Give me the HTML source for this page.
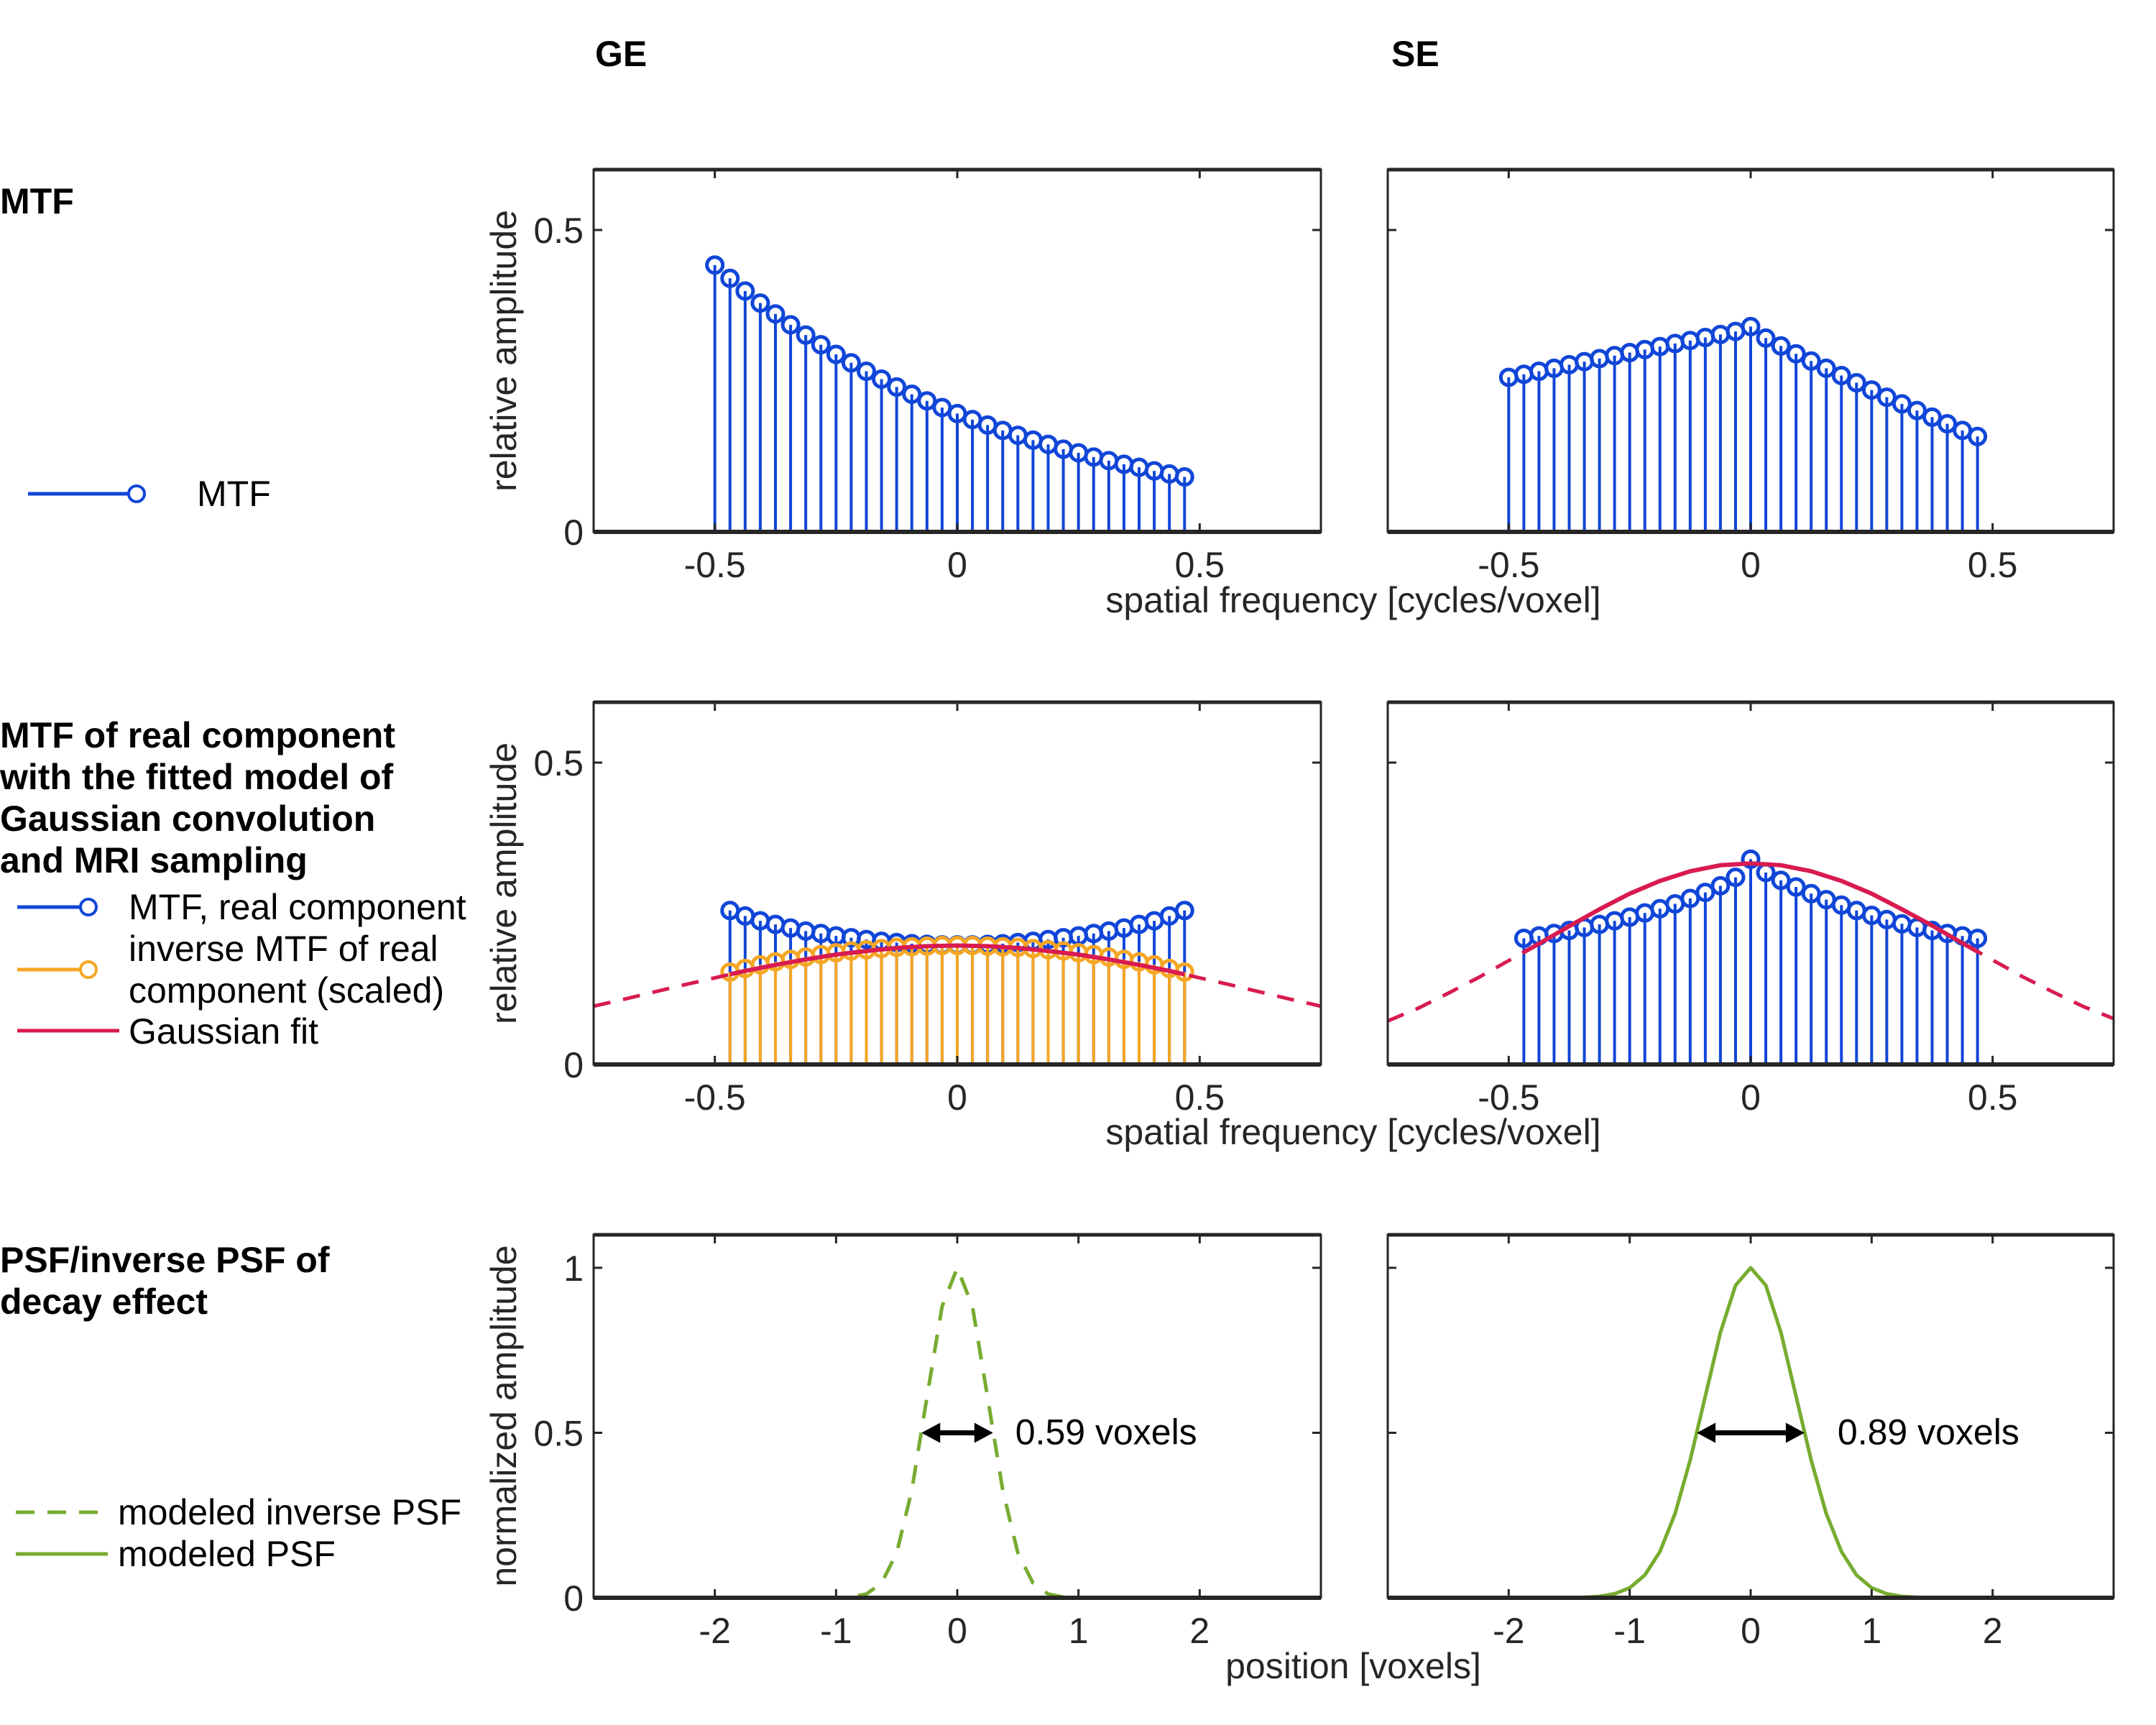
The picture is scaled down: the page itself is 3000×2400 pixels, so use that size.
<!DOCTYPE html>
<html><head><meta charset="utf-8"><style>
html,body{margin:0;padding:0;background:#fff;}
svg{display:block;font-family:"Liberation Sans",sans-serif;}
</style></head><body>
<svg id="fig" width="3000" height="2400" viewBox="0 0 3000 2400" xmlns="http://www.w3.org/2000/svg">
<rect x="0" y="0" width="3000" height="2400" fill="#fff"/>
<g font-weight="bold" font-size="50" fill="#000">
<text x="828" y="92">GE</text>
<text x="1936" y="92">SE</text>
</g>
<g font-weight="bold" font-size="50" fill="#000">
<text x="0" y="297">MTF</text>
<text>
<tspan x="0" y="1040">MTF of real component</tspan><tspan x="0" y="1098">with the fitted model of</tspan><tspan x="0" y="1156">Gaussian convolution</tspan><tspan x="0" y="1214">and MRI sampling</tspan></text>
<text><tspan x="0" y="1770">PSF/inverse PSF of</tspan><tspan x="0" y="1828">decay effect</tspan></text>
</g>
<g font-size="50" fill="#000">
<line x1="39" y1="687" x2="180" y2="687" stroke="#1046d8" stroke-width="5"/>
<circle cx="190" cy="687" r="11" fill="none" stroke="#1046d8" stroke-width="4"/>
<text x="274" y="704">MTF</text>
</g>
<g font-size="50" fill="#000">
<line x1="24" y1="1262" x2="112" y2="1262" stroke="#1046d8" stroke-width="5"/>
<circle cx="123" cy="1262" r="11" fill="none" stroke="#1046d8" stroke-width="4"/>
<text x="179" y="1279">MTF, real component</text>
<line x1="24" y1="1349" x2="112" y2="1349" stroke="#f5a623" stroke-width="5"/>
<circle cx="123" cy="1349" r="11" fill="none" stroke="#f5a623" stroke-width="4"/>
<text><tspan x="179" y="1337">inverse MTF of real</tspan><tspan x="179" y="1395">component (scaled)</tspan></text>
<line x1="24" y1="1434" x2="166" y2="1434" stroke="#d81b50" stroke-width="5"/>
<text x="179" y="1452">Gaussian fit</text>
</g>
<g font-size="50" fill="#000">
<line x1="22" y1="2104" x2="145" y2="2104" stroke="#77ac30" stroke-width="5" stroke-dasharray="26,18"/>
<text x="164" y="2121">modeled inverse PSF</text>
<line x1="22" y1="2162" x2="150" y2="2162" stroke="#77ac30" stroke-width="5"/>
<text x="164" y="2179">modeled PSF</text>
</g>
<g id="plots"></g>
</svg>
<script>
// ---- data ----
const mtfX32 = [-0.5,-0.46875,-0.4375,-0.40625,-0.375,-0.34375,-0.3125,-0.28125,-0.25,-0.21875,-0.1875,-0.15625,-0.125,-0.09375,-0.0625,-0.03125,0,0.03125,0.0625,0.09375,0.125,0.15625,0.1875,0.21875,0.25,0.28125,0.3125,0.34375,0.375,0.40625,0.4375,0.46875];
const mtfGE = [0.442,0.420,0.399,0.379,0.361,0.343,0.326,0.310,0.294,0.280,0.266,0.253,0.240,0.228,0.217,0.206,0.196,0.186,0.177,0.168,0.160,0.152,0.145,0.137,0.131,0.124,0.118,0.112,0.107,0.101,0.096,0.091];
const mtfSE = [0.256,0.261,0.266,0.271,0.277,0.282,0.287,0.292,0.297,0.302,0.307,0.312,0.317,0.322,0.327,0.332,0.340,0.321,0.308,0.295,0.283,0.271,0.259,0.247,0.235,0.223,0.212,0.201,0.190,0.179,0.168,0.158];
const realX31 = [-0.46875,-0.4375,-0.40625,-0.375,-0.34375,-0.3125,-0.28125,-0.25,-0.21875,-0.1875,-0.15625,-0.125,-0.09375,-0.0625,-0.03125,0,0.03125,0.0625,0.09375,0.125,0.15625,0.1875,0.21875,0.25,0.28125,0.3125,0.34375,0.375,0.40625,0.4375,0.46875];
const realGE = [0.255,0.246,0.238,0.232,0.226,0.221,0.217,0.213,0.210,0.207,0.204,0.202,0.200,0.199,0.198,0.198,0.198,0.199,0.200,0.202,0.204,0.207,0.210,0.213,0.217,0.221,0.226,0.232,0.238,0.246,0.255];
const invGE = [0.153,0.159,0.165,0.170,0.174,0.178,0.182,0.185,0.188,0.190,0.192,0.194,0.195,0.196,0.197,0.197,0.197,0.196,0.195,0.194,0.192,0.190,0.188,0.185,0.182,0.178,0.174,0.170,0.165,0.159,0.153];
const realSE = [0.209,0.213,0.217,0.222,0.227,0.232,0.238,0.244,0.251,0.258,0.266,0.275,0.285,0.296,0.310,0.340,0.318,0.305,0.294,0.283,0.273,0.264,0.255,0.247,0.240,0.233,0.227,0.222,0.217,0.213,0.209];
const fitX = [-0.75,-0.6875,-0.625,-0.5625,-0.5,-0.4375,-0.375,-0.3125,-0.25,-0.1875,-0.125,-0.0625,0,0.0625,0.125,0.1875,0.25,0.3125,0.375,0.4375,0.5,0.5625,0.625,0.6875,0.75];
const fitGE = [0.0966,0.108,0.120,0.132,0.1435,0.155,0.165,0.174,0.182,0.188,0.193,0.196,0.197,0.196,0.193,0.188,0.182,0.174,0.165,0.155,0.1435,0.132,0.120,0.108,0.0966];
const fitSE = [0.072,0.093,0.118,0.144,0.172,0.200,0.229,0.257,0.283,0.304,0.320,0.330,0.333,0.330,0.320,0.304,0.283,0.257,0.230,0.201,0.173,0.145,0.120,0.096,0.076];
const psfX = [-3,-1.5,-1.375,-1.25,-1.125,-1,-0.875,-0.75,-0.625,-0.5,-0.375,-0.25,-0.125,0,0.125,0.25,0.375,0.5,0.625,0.75,0.875,1,1.125,1.25,1.375,1.5,3];
const invPsfGE = [0,0,0,0,0,0.0003,0.0022,0.0113,0.0445,0.136,0.326,0.608,0.883,1,0.883,0.608,0.326,0.136,0.0445,0.0113,0.0022,0.0003,0,0,0,0,0];
const psfSE = [0,0.0004,0.0013,0.0042,0.0119,0.030,0.0686,0.140,0.255,0.417,0.611,0.804,0.947,1,0.947,0.804,0.611,0.417,0.255,0.140,0.0686,0.030,0.0119,0.0042,0.0013,0.0004,0];
const freqTicks = [-0.5,0,0.5];
const freqTickLabels = ["-0.5","0","0.5"];
const ampTicks = [0,0.5];
const ampTickLabels = ["0","0.5"];
const posTicks = [-2,-1,0,1,2];
const posTickLabels = ["-2","-1","0","1","2"];
const normTicks = [0,0.5,1];
const normTickLabels = ["0","0.5","1"];
const fwhmGE = 0.59, fwhmSE = 0.89;

const NS = "http://www.w3.org/2000/svg";
const root = document.getElementById('plots');
const BLUE="#1046d8", ORANGE="#f5a623", RED="#d81b50", GREEN="#77ac30", AX="#262626";
function mk(tag, attrs, parent){const e=document.createElementNS(NS,tag);for(const k in attrs)e.setAttribute(k,attrs[k]);(parent||root).appendChild(e);return e;}

const COLS=[[826,1838],[1931,2941]];
const ROWS=[[236,740],[977,1481],[1718,2223]];

function makeAxes(name, col, row, xlim, ylim, xt, xtl, yt, ytl){
  const [x0,x1]=COLS[col],[y0,y1]=ROWS[row];
  const g=mk('g',{});
  
  
  const sx=v=>x0+(v-xlim[0])/(xlim[1]-xlim[0])*(x1-x0);
  const sy=v=>y1-(v-ylim[0])/(ylim[1]-ylim[0])*(y1-y0);
  const clipId=name+'-clip';
  const cp=mk('clipPath',{id:clipId},g);mk('rect',{x:x0,y:y0,width:x1-x0,height:y1-y0},cp);
  const data=mk('g',{'clip-path':'url(#'+clipId+')'},g);
  
  
  const ax=mk('g',{},g);
  
  
  xt.forEach((v,i)=>{const x=sx(v);
    mk('line',{x1:x,y1:y1,x2:x,y2:y1-12,stroke:AX,'stroke-width':3},ax);
    mk('line',{x1:x,y1:y0,x2:x,y2:y0+12,stroke:AX,'stroke-width':3},ax);
    const t=mk('text',{x:x,y:y1+63,'text-anchor':'middle','font-size':50,fill:AX},ax);t.textContent=xtl[i];
    
    
  });
  yt.forEach((v,i)=>{const y=sy(v);
    mk('line',{x1:x0,y1:y,x2:x0+12,y2:y,stroke:AX,'stroke-width':3},ax);
    mk('line',{x1:x1,y1:y,x2:x1-12,y2:y,stroke:AX,'stroke-width':3},ax);
    if(col===0){const t=mk('text',{x:x0-14,y:y+18,'text-anchor':'end','font-size':50,fill:AX},ax);t.textContent=ytl[i];
      
      }
  });
  mk('rect',{x:x0,y:y0,width:x1-x0,height:y1-y0,fill:'none',stroke:AX,'stroke-width':3},ax);
  mk('line',{x1:x0,y1:y1,x2:x1,y2:y1,stroke:AX,'stroke-width':6},ax);
  mk('line',{x1:x0,y1:y0,x2:x1,y2:y0,stroke:AX,'stroke-width':5},ax);
  return {g,data,ax,sx,sy,x0,x1,y0,y1};
}
function stems(A, xs, ys, color, name){
  const g=mk('g',{},A.data);
  
  
  xs.forEach((x,i)=>{
    const l=mk('line',{x1:A.sx(x),y1:A.sy(0),x2:A.sx(x),y2:A.sy(ys[i]),stroke:color,'stroke-width':4},g);
    
    
  });
  xs.forEach((x,i)=>{
    const c=mk('circle',{cx:A.sx(x),cy:A.sy(ys[i]),r:11,fill:'none',stroke:color,'stroke-width':5},g);
    
    
  });
}
function line(A, xs, ys, color, w, dash, name, clip){
  const pts=xs.map((x,i)=>A.sx(x).toFixed(1)+','+A.sy(ys[i]).toFixed(1)).join(' ');
  const p=mk('polyline',{points:pts,fill:'none',stroke:color,'stroke-width':w,'stroke-linejoin':'round'},A.data);
  if(dash)p.setAttribute('stroke-dasharray',dash);
  if(clip){
    const id=name+'-cl';const cp=mk('clipPath',{id:id},A.data);
    mk('rect',{x:A.sx(clip[0]),y:A.y0,width:A.sx(clip[1])-A.sx(clip[0]),height:A.y1-A.y0},cp);
    p.setAttribute('clip-path','url(#'+id+')');
  }
  
  
  return p;
}
function arrow(A, half, label, name, off){
  const g=mk('g',{},A.g);
  
  
  const y=A.sy(0.5), xa=A.sx(-half/2), xb=A.sx(half/2);
  mk('line',{x1:xa+20,y1:y,x2:xb-20,y2:y,stroke:'#000','stroke-width':7},g);
  mk('polygon',{points:`${xb},${y} ${xb-26},${y-14} ${xb-26},${y+14}`,fill:'#000'},g);
  mk('polygon',{points:`${xa},${y} ${xa+26},${y-14} ${xa+26},${y+14}`,fill:'#000'},g);
  const t=mk('text',{x:xb+off,y:y+16,'font-size':50,fill:'#000'},g);t.textContent=label;
  
  
}

// Row 1
const a1=makeAxes('ge-mtf-plot',0,0,[-0.75,0.75],[0,0.6],freqTicks,freqTickLabels,ampTicks,ampTickLabels);
stems(a1,mtfX32,mtfGE,BLUE,'ge-mtf-stem');
const a2=makeAxes('se-mtf-plot',1,0,[-0.75,0.75],[0,0.6],freqTicks,freqTickLabels,ampTicks,ampTickLabels);
stems(a2,mtfX32,mtfSE,BLUE,'se-mtf-stem');
// Row 2
const b1=makeAxes('ge-real-mtf-plot',0,1,[-0.75,0.75],[0,0.6],freqTicks,freqTickLabels,ampTicks,ampTickLabels);
stems(b1,realX31,realGE,BLUE,'ge-real-mtf-stem');
stems(b1,realX31,invGE,ORANGE,'ge-inverse-mtf-stem');
line(b1,fitX,fitGE,RED,5,'24,18','ge-gaussian-fit-dashed');
line(b1,fitX,fitGE,RED,6,null,'ge-gaussian-fit',[-0.46875,0.46875]);
const b2=makeAxes('se-real-mtf-plot',1,1,[-0.75,0.75],[0,0.6],freqTicks,freqTickLabels,ampTicks,ampTickLabels);
stems(b2,realX31,realSE,BLUE,'se-real-mtf-stem');
line(b2,fitX,fitSE,RED,5,'24,18','se-gaussian-fit-dashed');
line(b2,fitX,fitSE,RED,6,null,'se-gaussian-fit',[-0.46875,0.46875]);
// Row 3
const c1=makeAxes('ge-psf-plot',0,2,[-3,3],[0,1.1],posTicks,posTickLabels,normTicks,normTickLabels);
line(c1,psfX,invPsfGE,GREEN,5,'26,20','ge-inverse-psf-line');
arrow(c1,fwhmGE,'0.59 voxels','ge-fwhm-arrow',31);
const c2=makeAxes('se-psf-plot',1,2,[-3,3],[0,1.1],posTicks,posTickLabels,normTicks,normTickLabels);
line(c2,psfX,psfSE,GREEN,5,null,'se-psf-line');
arrow(c2,fwhmSE,'0.89 voxels','se-fwhm-arrow',46);

// axis titles
function txt(s,attrs,name){const t=mk('text',attrs);t.textContent=s;
  
  }
txt('spatial frequency [cycles/voxel]',{x:1883,y:852,'text-anchor':'middle','font-size':50,fill:AX},'x-axis-title-row1');
txt('spatial frequency [cycles/voxel]',{x:1883,y:1592,'text-anchor':'middle','font-size':50,fill:AX},'x-axis-title-row2');
txt('position [voxels]',{x:1883,y:2335,'text-anchor':'middle','font-size':50,fill:AX},'x-axis-title-row3');
txt('relative amplitude',{x:0,y:0,'text-anchor':'middle','font-size':50,fill:AX,transform:'translate(718,488) rotate(-90)'},'y-axis-title-row1');
txt('relative amplitude',{x:0,y:0,'text-anchor':'middle','font-size':50,fill:AX,transform:'translate(718,1229) rotate(-90)'},'y-axis-title-row2');
txt('normalized amplitude',{x:0,y:0,'text-anchor':'middle','font-size':50,fill:AX,transform:'translate(718,1970) rotate(-90)'},'y-axis-title-row3');
</script>
</body></html>
